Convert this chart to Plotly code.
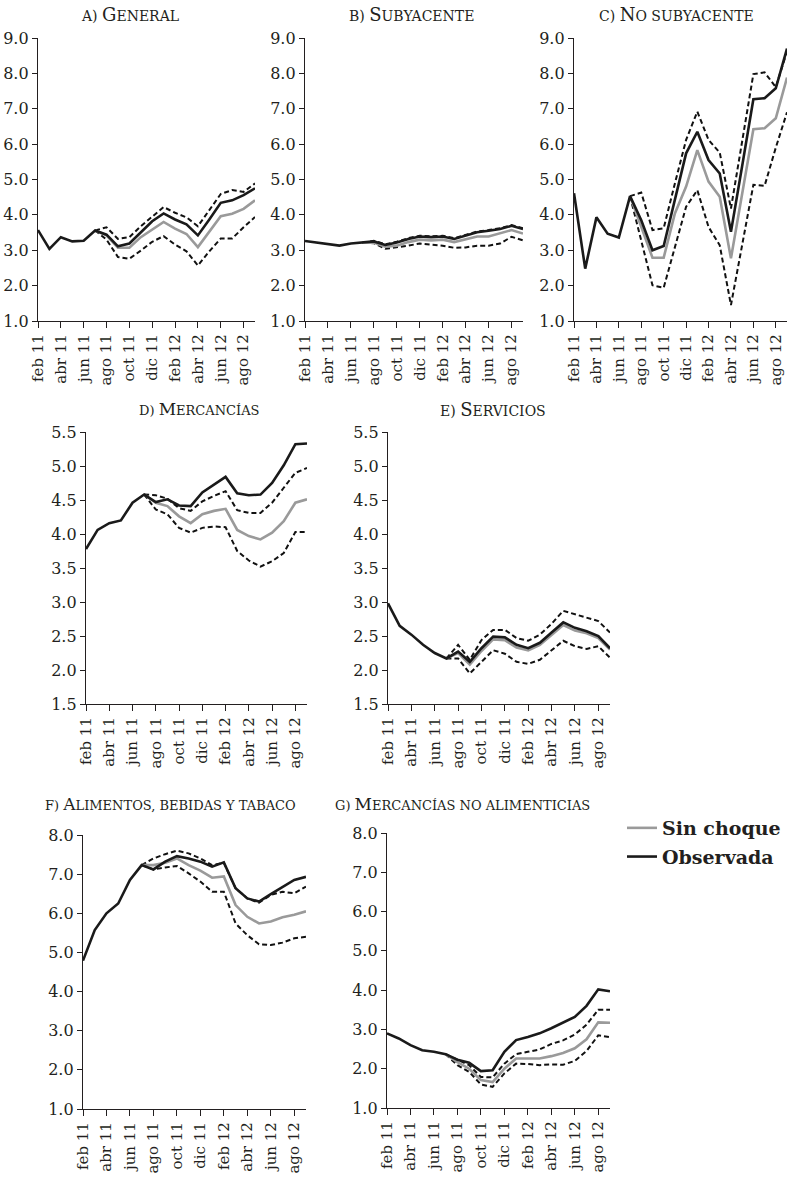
import plotly.graph_objects as go

W, H = 787, 1178

months = ["feb 11", "mar 11", "abr 11", "may 11", "jun 11", "jul 11", "ago 11",
          "sep 11", "oct 11", "nov 11", "dic 11", "ene 12", "feb 12", "mar 12",
          "abr 12", "may 12", "jun 12", "jul 12", "ago 12", "sep 12"]
tick_months = months[::2]

N = [None] * 5

# a) General
a_obs = [3.57, 3.04, 3.37, 3.25, 3.27, 3.56, 3.44, 3.11, 3.19, 3.51, 3.82, 4.04, 3.87, 3.73, 3.42, 3.87, 4.34, 4.41, 4.56, 4.75]
a_sin = N + [3.56, 3.42, 3.07, 3.07, 3.37, 3.58, 3.80, 3.61, 3.46, 3.09, 3.54, 3.96, 4.03, 4.17, 4.41]
a_up = N + [3.56, 3.65, 3.32, 3.37, 3.68, 3.96, 4.22, 4.06, 3.93, 3.68, 4.12, 4.59, 4.70, 4.65, 4.89]
a_lo = N + [3.56, 3.30, 2.81, 2.76, 2.99, 3.24, 3.40, 3.16, 2.97, 2.57, 2.97, 3.33, 3.33, 3.65, 3.94]

# b) Subyacente
b_obs = [3.26, 3.22, 3.19, 3.13, 3.19, 3.21, 3.25, 3.15, 3.22, 3.32, 3.39, 3.37, 3.39, 3.32, 3.42, 3.51, 3.55, 3.60, 3.69, 3.60]
b_sin = N + [3.21, 3.22, 3.10, 3.13, 3.23, 3.30, 3.28, 3.30, 3.23, 3.30, 3.39, 3.39, 3.47, 3.57, 3.47]
b_up = N + [3.21, 3.27, 3.17, 3.24, 3.34, 3.41, 3.39, 3.41, 3.34, 3.44, 3.53, 3.57, 3.62, 3.71, 3.62]
b_lo = N + [3.21, 3.20, 3.04, 3.08, 3.13, 3.19, 3.16, 3.13, 3.07, 3.08, 3.13, 3.13, 3.19, 3.38, 3.28]

# c) No subyacente
c_obs = [4.61, 2.48, 3.93, 3.47, 3.36, 4.53, 3.85, 3.00, 3.12, 4.42, 5.74, 6.35, 5.55, 5.17, 3.52, 5.38, 7.27, 7.30, 7.58, 8.70]
c_sin = N + [4.53, 3.66, 2.79, 2.79, 4.04, 4.80, 5.83, 4.94, 4.51, 2.77, 4.60, 6.42, 6.45, 6.73, 7.88]
c_up = N + [4.53, 4.63, 3.57, 3.62, 4.89, 6.12, 6.92, 6.12, 5.76, 4.18, 6.08, 7.98, 8.03, 7.61, 8.62]
c_lo = N + [4.53, 3.28, 2.01, 1.94, 3.10, 4.23, 4.70, 3.66, 3.14, 1.45, 3.15, 4.85, 4.82, 5.90, 6.90]

# d) Mercancías
d_obs = [3.78, 4.06, 4.16, 4.20, 4.46, 4.58, 4.47, 4.51, 4.42, 4.41, 4.61, 4.73, 4.84, 4.60, 4.57, 4.58, 4.75, 5.01, 5.32, 5.33]
d_sin = N + [4.58, 4.46, 4.41, 4.26, 4.16, 4.29, 4.34, 4.37, 4.06, 3.97, 3.92, 4.02, 4.19, 4.46, 4.51]
d_up = N + [4.58, 4.57, 4.52, 4.38, 4.34, 4.48, 4.56, 4.63, 4.35, 4.31, 4.31, 4.46, 4.68, 4.90, 4.97]
d_lo = N + [4.58, 4.36, 4.29, 4.09, 4.02, 4.09, 4.11, 4.10, 3.75, 3.61, 3.52, 3.60, 3.72, 4.03, 4.03]

# e) Servicios
e_obs = [2.98, 2.65, 2.52, 2.37, 2.25, 2.17, 2.27, 2.12, 2.32, 2.49, 2.48, 2.37, 2.32, 2.40, 2.55, 2.70, 2.62, 2.57, 2.50, 2.32]
e_sin = N + [2.17, 2.25, 2.08, 2.28, 2.45, 2.44, 2.33, 2.29, 2.37, 2.52, 2.66, 2.58, 2.54, 2.47, 2.30]
e_up = N + [2.17, 2.37, 2.15, 2.44, 2.59, 2.59, 2.47, 2.43, 2.52, 2.68, 2.87, 2.82, 2.78, 2.72, 2.55]
e_lo = N + [2.17, 2.17, 1.95, 2.12, 2.29, 2.24, 2.12, 2.09, 2.15, 2.29, 2.43, 2.35, 2.31, 2.35, 2.18]

# f) Alimentos, bebidas y tabaco
f_obs = [4.79, 5.57, 6.00, 6.25, 6.85, 7.23, 7.12, 7.32, 7.46, 7.40, 7.32, 7.19, 7.30, 6.64, 6.38, 6.30, 6.49, 6.68, 6.85, 6.93]
f_sin = N + [7.23, 7.23, 7.29, 7.40, 7.23, 7.09, 6.91, 6.94, 6.21, 5.91, 5.74, 5.79, 5.90, 5.96, 6.05]
f_up = N + [7.23, 7.40, 7.51, 7.60, 7.53, 7.40, 7.23, 7.29, 6.64, 6.38, 6.27, 6.47, 6.55, 6.51, 6.68]
f_lo = N + [7.23, 7.12, 7.17, 7.21, 7.02, 6.81, 6.55, 6.55, 5.74, 5.44, 5.21, 5.19, 5.25, 5.36, 5.40]

# g) Mercancías no alimenticias
g_obs = [2.90, 2.77, 2.60, 2.47, 2.43, 2.37, 2.23, 2.15, 1.94, 1.96, 2.43, 2.73, 2.81, 2.90, 3.03, 3.17, 3.32, 3.60, 4.02, 3.97]
g_sin = N + [2.37, 2.17, 2.00, 1.71, 1.66, 2.00, 2.26, 2.26, 2.26, 2.32, 2.40, 2.52, 2.75, 3.18, 3.17]
g_up = N + [2.37, 2.22, 2.09, 1.79, 1.78, 2.13, 2.37, 2.43, 2.49, 2.63, 2.72, 2.87, 3.12, 3.50, 3.50]
g_lo = N + [2.37, 2.09, 1.92, 1.60, 1.54, 1.88, 2.13, 2.12, 2.09, 2.11, 2.10, 2.20, 2.45, 2.85, 2.80]

titles = ["a) General", "b) Subyacente", "c) No subyacente", "d) Mercancías",
          "e) Servicios", "f) Alimentos, bebidas y tabaco", "g) Mercancías no alimenticias"]

# layout boxes in pixels: (x0, x1, ytop, ybottom, ymin, ymax, dtick, title_x, title_y, big, small)
panels = [
    (a_obs, a_sin, a_up, a_lo, (38, 255, 38, 321, 1, 9, 1, 130, 15, 18, 14)),
    (b_obs, b_sin, b_up, b_lo, (305, 523, 38, 321, 1, 9, 1, 411, 15, 18, 14)),
    (c_obs, c_sin, c_up, c_lo, (574, 787, 38, 321, 1, 9, 1, 676, 15, 18, 14)),
    (d_obs, d_sin, d_up, d_lo, (86, 307, 432, 704, 1.5, 5.5, 0.5, 199, 409, 17, 13)),
    (e_obs, e_sin, e_up, e_lo, (388, 610, 432, 704, 1.5, 5.5, 0.5, 493, 409, 18, 14)),
    (f_obs, f_sin, f_up, f_lo, (83, 306, 835, 1109, 1, 8, 1, 170, 804, 17, 13)),
    (g_obs, g_sin, g_up, g_lo, (387, 610, 833, 1108, 1, 8, 1, 462, 804, 17, 13)),
]

TXT = "#231f20"
FONT = "DejaVu Serif"


def smallcaps(text, big=18, small=14):
    out = []
    for ch in text:
        if ch.islower():
            out.append(("s", ch.upper()))
        elif ch.isupper():
            out.append(("b", ch))
        else:
            out.append(("s", ch))
    html = ""
    cur, buf = None, ""
    for kind, ch in out:
        if kind != cur and buf:
            size = big if cur == "b" else small
            html += f"<span style='font-size:{size}px'>{buf}</span>"
            buf = ""
        cur = kind
        buf += ch
    if buf:
        size = big if cur == "b" else small
        html += f"<span style='font-size:{size}px'>{buf}</span>"
    return html


fig = go.Figure()
annotations = []
layout = {}

for k, (obs, sin, up, lo, box) in enumerate(panels):
    x0, x1, yt, yb, ymin, ymax, dt, tx, ty, big, small = box
    sfx = "" if k == 0 else str(k + 1)
    xa, ya = "x" + sfx, "y" + sfx
    for series in (up, lo):
        fig.add_trace(go.Scatter(x=months, y=series, mode="lines", xaxis=xa, yaxis=ya,
                                 line=dict(color="#111111", width=2, dash="5px,3px"),
                                 showlegend=False, hoverinfo="skip"))
    fig.add_trace(go.Scatter(x=months, y=sin, mode="lines", xaxis=xa, yaxis=ya,
                             name="<b>Sin choque</b>", legendgroup="sin",
                             line=dict(color="#9a9a9a", width=2.6),
                             showlegend=(k == 0)))
    fig.add_trace(go.Scatter(x=months, y=obs, mode="lines", xaxis=xa, yaxis=ya,
                             name="<b>Observada</b>", legendgroup="obs",
                             line=dict(color="#1a1a1a", width=2.6),
                             showlegend=(k == 0)))
    xkey = "xaxis" + sfx
    ykey = "yaxis" + sfx
    layout[xkey] = dict(
        domain=[x0 / W, min(x1 / W, 1.0)], anchor=ya, type="category",
        range=[0, len(months) - 1], tickmode="array", tickvals=tick_months,
        ticktext=tick_months, tickangle=-90, ticks="outside", ticklen=6,
        tickwidth=1.3, tickcolor=TXT, showline=True, linecolor=TXT, linewidth=1.3,
        showgrid=False, zeroline=False, automargin=False,
        tickfont=dict(family=FONT, size=15, color=TXT))
    layout[ykey] = dict(
        domain=[1 - yb / H, 1 - yt / H], anchor=xa, range=[ymin, ymax], dtick=dt,
        tick0=ymin, tickformat=".1f", ticks="outside", ticklen=5, tickwidth=1.3,
        tickcolor=TXT, showline=True, linecolor=TXT, linewidth=1.3,
        showgrid=False, zeroline=False, automargin=False,
        tickfont=dict(family=FONT, size=16, color=TXT))
    annotations.append(dict(
        text=smallcaps(titles[k], big, small), x=tx / W, y=1 - ty / H,
        xref="paper", yref="paper", xanchor="center", yanchor="middle",
        showarrow=False, font=dict(family=FONT, size=big, color=TXT)))

fig.update_layout(
    width=W, height=H, margin=dict(l=0, r=0, t=0, b=0, autoexpand=False),
    paper_bgcolor="white", plot_bgcolor="white",
    annotations=annotations,
    showlegend=True,
    legend=dict(x=622 / W, y=1 - 809 / H, xanchor="left", yanchor="top",
                font=dict(family=FONT, size=19, color=TXT),
                tracegroupgap=1, itemwidth=30, bgcolor="rgba(0,0,0,0)"),
    **layout)

fig.write_html("out.html", config={"displayModeBar": False},
               post_script="document.body.style.margin='0';document.body.style.overflow='hidden';")
